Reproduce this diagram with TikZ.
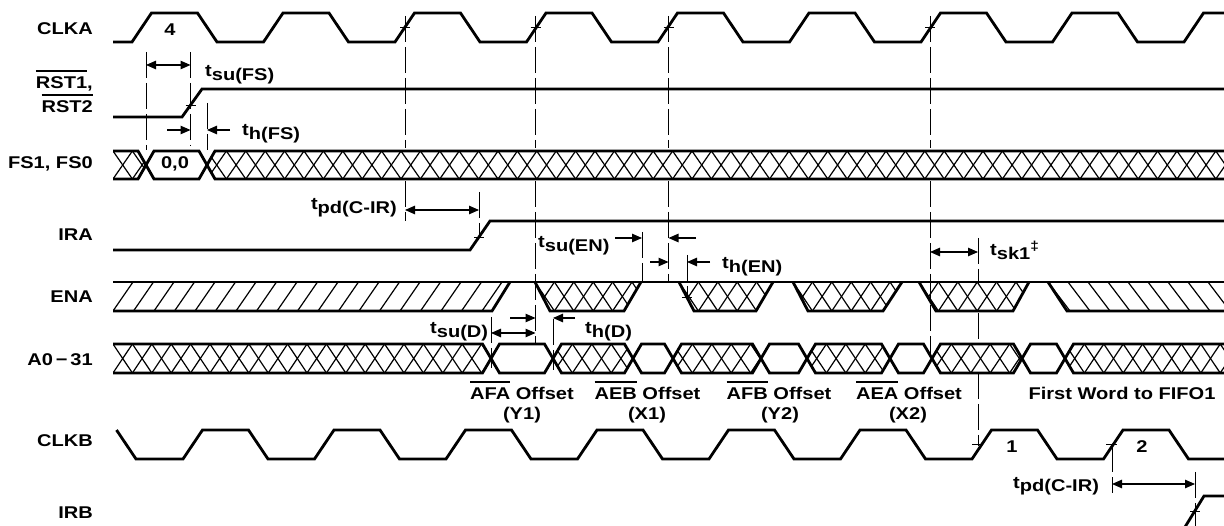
\documentclass[tikz,border=0pt]{standalone}
\usepackage{fontspec}
\setmainfont{Liberation Sans}[FakeStretch=1.18]
\usetikzlibrary{arrows.meta}
\newcommand\tsub[1]{t\raisebox{-4pt}{#1}}
\newcommand\ovl[1]{\vbox{\hrule height 2.4pt\kern 5pt\hbox{#1}}}
% crosshatch: clip path, top y, bottom y, x0, x1
\newcommand\xhatch[5]{%
  \begin{scope}
    \clip #1;
    \pgfmathtruncatemacro\nh{(#5-#4)/19.4+2}
    \foreach \i in {0,...,\nh}{
      \pgfmathsetmacro\xx{#4-19.4+19.4*\i}
      \draw[hatch] (\xx,#2) -- (\xx+19.4,#3);
      \draw[hatch] (\xx,#3) -- (\xx+19.4,#2);
    }
  \end{scope}}
% forward hatch /
\newcommand\fhatch[5]{%
  \begin{scope}
    \clip #1;
    \pgfmathtruncatemacro\nh{(#5-#4)/20.5+2}
    \foreach \i in {0,...,\nh}{
      \pgfmathsetmacro\xx{#4-20.5+20.5*\i}
      \draw[hatch] (\xx,#3) -- (\xx+20,#2);
    }
  \end{scope}}
% backward hatch \
\newcommand\bhatch[5]{%
  \begin{scope}
    \clip #1;
    \pgfmathtruncatemacro\nh{(#5-#4)/20+2}
    \foreach \i in {0,...,\nh}{
      \pgfmathsetmacro\xx{#4-20+20*\i}
      \draw[hatch] (\xx,#2) -- (\xx+22,#3);
    }
  \end{scope}}
\begin{document}
\begin{tikzpicture}[x=1pt,y=-1pt,
  font=\fontsize{17}{20}\selectfont\bfseries,
  sig/.style={line width=2.8pt,line join=miter},
  refl/.style={line width=0.9pt,dash pattern=on 26pt off 5pt},
  hatch/.style={line width=1.2pt},
  tickm/.style={line width=0.9pt},
  dimar/.style={line width=1.1pt,{Triangle[length=10pt,width=8.5pt]}-{Triangle[length=10pt,width=8.5pt]}},
  onear/.style={line width=1.1pt,-{Triangle[length=10pt,width=8.5pt]}},
  lab/.style={anchor=base east,inner sep=0pt},
  tl/.style={anchor=base west,inner sep=0pt},
  cl/.style={anchor=base,inner sep=0pt}]
\clip (0,0) rectangle (1224,526);

% ---------- signal names
\node[lab] (lclka) at (93,35) {CLKA};
\node[lab] (lrst1) at (93,89) {\ovl{RST1},};
\node[lab] (lrst2) at (93,113) {\ovl{RST2}};
\node[lab] (lfs) at (93,169) {FS1, FS0};
\node[lab] (lira) at (93,241) {IRA};
\node[lab] (lena) at (93,303) {ENA};
\node[lab] (la) at (93,366) {A0\,−\,31};
\node[lab] (lclkb) at (93,447) {CLKB};
\node[lab] (lirb) at (93,518) {IRB};

% ---------- reference lines
\draw[refl] (146,52) -- (146,150);
\draw[refl] (190.5,52) -- (190.5,146);
\draw[refl] (207,103) -- (207,150);
\foreach \xr in {405,535.5,668.5,930}{\draw[refl] (\xr,16) -- (\xr,148);}
\draw[refl] (405,181) -- (405,221);
\draw[refl] (535.5,181) -- (535.5,343);
\draw[refl] (668.5,181) -- (668.5,282);
\draw[refl] (930,181) -- (930,356);
\draw[refl] (479,192) -- (479,237);
\draw[refl] (642,232) -- (642,282);
\draw[refl] (687,255) -- (687,300);
\draw[refl] (491,317) -- (491,368);
\draw[refl] (553,319) -- (553,370);
\draw[refl] (978,238) -- (978,282);
\draw[refl] (978,313) -- (978,342);
\draw[refl] (978,373) -- (978,446);
\draw[refl] (1112,446) -- (1112,493);
\draw[refl] (1195,472) -- (1195,526);

% ---------- CLKA
\draw[sig] (113,42) \foreach \k in {0,...,8}{ -- ({132+131.5*\k},42) -- ({151.5+131.5*\k},13) -- ({197.5+131.5*\k},13) -- ({217+131.5*\k},42) };
\node[cl] (n4) at (170,35.5) {4};

% ---------- RST
\draw[sig] (113,117) -- (182,117) -- (202,89) -- (1230,89);

% ---------- FS bus
\xhatch{(113,151) -- (138,151) -- (146,165) -- (138,179) -- (113,179) -- cycle}{151}{179}{113}{146}
\xhatch{(1230,151) -- (215,151) -- (207,165) -- (215,179) -- (1230,179) -- cycle}{151}{179}{207}{1230}
\draw[sig] (113,151) -- (138,151) -- (154,179) -- (199,179) -- (215,151) -- (1230,151);
\draw[sig] (113,179) -- (138,179) -- (154,151) -- (199,151) -- (215,179) -- (1230,179);
\node[cl] (n00) at (175,169) {0,0};

% ---------- IRA
\draw[sig] (113,250) -- (470,250) -- (490,221) -- (1230,221);

% ---------- ENA
\fhatch{(113,282) -- (510,282) -- (492,311) -- (113,311) -- cycle}{282}{311}{113}{510}
\xhatch{(535,282) -- (641,282) -- (624,311) -- (550,311) -- cycle}{282}{311}{535}{641}
\xhatch{(679,282) -- (773,282) -- (756,311) -- (694,311) -- cycle}{282}{311}{679}{773}
\xhatch{(793,282) -- (902,282) -- (883,311) -- (808,311) -- cycle}{282}{311}{793}{902}
\xhatch{(919,282) -- (1029,282) -- (1013,311) -- (936,311) -- cycle}{282}{311}{919}{1029}
\bhatch{(1048,282) -- (1230,282) -- (1230,311) -- (1067,311) -- cycle}{282}{311}{1048}{1230}
\draw[sig] (113,282) -- (1230,282);
\draw[sig] (113,311) -- (492,311) -- (510,282);
\draw[sig] (535,282) -- (550,311) -- (624,311) -- (641,282);
\draw[sig] (679,282) -- (694,311) -- (756,311) -- (773,282);
\draw[sig] (793,282) -- (808,311) -- (883,311) -- (902,282);
\draw[sig] (919,282) -- (936,311) -- (1013,311) -- (1029,282);
\draw[sig] (1048,282) -- (1067,311) -- (1230,311);

% ---------- A0-31 bus
\xhatch{(113,344) -- (482.5,344) -- (491,358.5) -- (482.5,373) -- (113,373) -- cycle}{344}{373}{113}{491}
\xhatch{(553,358.5) -- (561.5,344) -- (624.5,344) -- (633,358.5) -- (624.5,373) -- (561.5,373) -- cycle}{344}{373}{553}{633}
\xhatch{(673,358.5) -- (681.5,344) -- (752.5,344) -- (761,358.5) -- (752.5,373) -- (681.5,373) -- cycle}{344}{373}{673}{761}
\xhatch{(807,358.5) -- (815.5,344) -- (881.5,344) -- (890,358.5) -- (881.5,373) -- (815.5,373) -- cycle}{344}{373}{807}{890}
\xhatch{(932,358.5) -- (940.5,344) -- (1013.5,344) -- (1022,358.5) -- (1013.5,373) -- (940.5,373) -- cycle}{344}{373}{932}{1022}
\xhatch{(1065,358.5) -- (1073.5,344) -- (1230,344) -- (1230,373) -- (1073.5,373) -- cycle}{344}{373}{1065}{1230}
\draw[sig] (113,344) -- (482.5,344) -- (499.5,373) -- (544.5,373) -- (561.5,344) -- (624.5,344) -- (641.5,373) -- (664.5,373) -- (681.5,344) -- (752.5,344) -- (769.5,373) -- (798.5,373) -- (815.5,344) -- (881.5,344) -- (898.5,373) -- (923.5,373) -- (940.5,344) -- (1013.5,344) -- (1030.5,373) -- (1056.5,373) -- (1073.5,344) -- (1230,344);
\draw[sig] (113,373) -- (482.5,373) -- (499.5,344) -- (544.5,344) -- (561.5,373) -- (624.5,373) -- (641.5,344) -- (664.5,344) -- (681.5,373) -- (752.5,373) -- (769.5,344) -- (798.5,344) -- (815.5,373) -- (881.5,373) -- (898.5,344) -- (923.5,344) -- (940.5,373) -- (1013.5,373) -- (1030.5,344) -- (1056.5,344) -- (1073.5,373) -- (1230,373);

% ---------- data labels
\node[cl] (afa) at (522,400) {\ovl{AFA} Offset};
\node[cl] (y1) at (522,420) {(Y1)};
\node[cl] (aeb) at (647.5,400) {\ovl{AEB} Offset};
\node[cl] (x1) at (647,420) {(X1)};
\node[cl] (afb) at (779,400) {\ovl{AFB} Offset};
\node[cl] (y2) at (780,420) {(Y2)};
\node[cl] (aea) at (909,400) {\ovl{AEA} Offset};
\node[cl] (x2) at (908,420) {(X2)};
\node[cl] (fw) at (1122,400) {First Word to FIFO1};

% ---------- CLKB
\draw[sig] (116.5,430) -- (136,459) \foreach \k in {0,...,7}{ -- ({183+131.5*\k},459) -- ({202.5+131.5*\k},430) -- ({248.5+131.5*\k},430) -- ({268+131.5*\k},459) } -- (1230,459);
\node[cl] (n1) at (1012,453) {1};
\node[cl] (n2) at (1142,453) {2};

% ---------- IRB
\draw[sig] (1185,527) -- (1204,496) -- (1230,496);

% ---------- tick marks
\foreach \xr in {405,535.5,668.5,930}{\draw[tickm] (\xr-5,27.5) -- (\xr+5,27.5);}
\draw[tickm] (185.5,105) -- (195.5,105);
\draw[tickm] (474,237) -- (484,237);
\draw[tickm] (682,297.5) -- (692,297.5);
\draw[tickm] (972,444) -- (983,444);
\draw[tickm] (1106,444) -- (1117,444);
\draw[tickm] (1190,511) -- (1200,511);

% ---------- timing arrows
\draw[dimar] (146,65) -- (190.5,65);
\draw[onear] (167,130) -- (190.5,130);
\draw[onear] (230,130) -- (207,130);
\draw[dimar] (405,210) -- (479,210);
\draw[onear] (615,238) -- (642,238);
\draw[onear] (696,238) -- (668.5,238);
\draw[onear] (650,262) -- (668.5,262);
\draw[onear] (710,262) -- (687,262);
\draw[dimar] (491,333) -- (535.5,333);
\draw[onear] (510,318) -- (535.5,318);
\draw[onear] (575,318) -- (553,318);
\draw[dimar] (930,252) -- (978,252);
\draw[dimar] (1112,484) -- (1195,484);

% ---------- timing labels
\node[tl] (tsufs) at (205,77) {\tsub{su(FS)}};
\node[tl] (thfs) at (242,136) {\tsub{h(FS)}};
\node[lab] (tpda) at (397,210) {\tsub{pd(C-IR)}};
\node[tl] (tsuen) at (538,248) {\tsub{su(EN)}};
\node[tl] (then) at (722,269) {\tsub{h(EN)}};
\node[tl] (tsud) at (430,334) {\tsub{su(D)}};
\node[tl] (thd) at (585,334) {\tsub{h(D)}};
\node[tl] (tsk) at (990,256) {\tsub{sk1}\raisebox{5pt}{\fontsize{13}{13}\selectfont ‡}};
\node[tl] (tpdb) at (1013,488) {\tsub{pd(C-IR)}};
\end{tikzpicture}
\end{document}
